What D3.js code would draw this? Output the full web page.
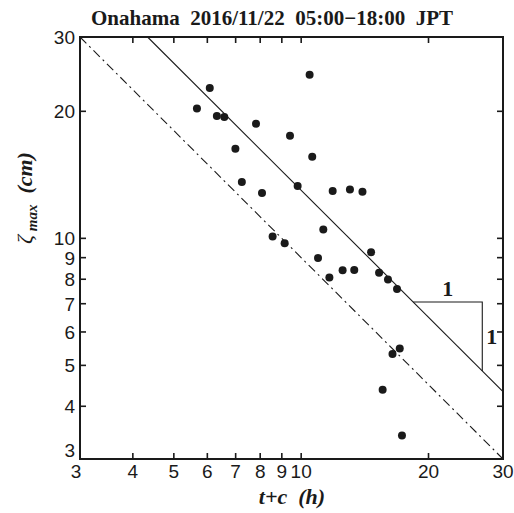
<!DOCTYPE html>
<meta charset="utf-8">
<script src="https://d3js.org/d3.v7.min.js"></script>
<style>
  body { margin: 0; background: #fff; }
  text { fill: #1a1a1a; }
</style>
<svg id="chart" width="514" height="513"></svg>
<script>

// data: t+c (h) and zeta max (cm)
var tc   = [5.67, 6.08, 6.32, 6.58, 6.99, 7.24, 7.82, 8.08, 8.56, 9.14,
            9.41, 9.81, 10.47, 10.62, 10.96, 11.28, 11.66, 11.87, 12.53, 13.04,
            13.35, 13.96, 14.63, 15.28, 15.58, 16.04, 16.44, 16.85, 17.10, 17.31];
var zeta = [20.3, 22.7, 19.5, 19.4, 16.3, 13.6, 18.7, 12.8, 10.1, 9.74,
            17.5, 13.3, 24.4, 15.6, 8.98, 10.5, 8.08, 12.95, 8.40, 13.05,
            8.41, 12.9, 9.27, 8.29, 4.38, 7.99, 5.32, 7.58, 5.48, 3.41];

// reference lines zeta = k / (t+c)
var upperK = 130;
var lowerK = 90;
// slope triangle corners (t+c)
var triX = [18.4, 26.8];

var xTicks = [3, 4, 5, 6, 7, 8, 9, 10, 20, 30];
var yTicks = [3, 4, 5, 6, 7, 8, 9, 10, 20, 30];
var minorTicks = [4, 5, 6, 7, 8, 9, 10, 20];

var svg = d3.select("#chart");
var x = d3.scaleLog().domain([3, 30]).range([80, 503]);
var y = d3.scaleLog().domain([3, 30]).range([459, 37]);

// title
svg.append("text")
  .attr("x", 272).attr("y", 25)
  .attr("text-anchor", "middle")
  .style("font-family", "'Liberation Serif', serif")
  .style("font-weight", "bold")
  .style("font-size", "21px")
  .style("white-space", "pre")
  .text("Onahama  2016/11/22  05:00\u221218:00  JPT");

// reference lines
var line = d3.line().x(function(d) { return x(d[0]); }).y(function(d) { return y(d[1]); });

svg.append("path")
  .attr("d", line([[upperK / 30, 30], [30, upperK / 30]]))
  .attr("fill", "none").attr("stroke", "#1a1a1a").attr("stroke-width", 1.1);

svg.append("path")
  .attr("d", line([[3, lowerK / 3], [30, lowerK / 30]]))
  .attr("fill", "none").attr("stroke", "#1a1a1a").attr("stroke-width", 1.1)
  .attr("stroke-dasharray", "9,4,2,4");

// slope triangle
var triY = [upperK / triX[0], upperK / triX[1]];
svg.append("path")
  .attr("d", line([[triX[0], triY[0]], [triX[1], triY[0]], [triX[1], triY[1]]]))
  .attr("fill", "none").attr("stroke", "#1a1a1a").attr("stroke-width", 1.1);

var oneStyle = function(sel) {
  sel.style("font-family", "'Liberation Serif', serif")
    .style("font-weight", "bold")
    .style("font-size", "22px");
};
svg.append("text")
  .attr("x", x(Math.sqrt(triX[0] * triX[1]))).attr("y", y(triY[0]) - 6)
  .attr("text-anchor", "middle").call(oneStyle).text("1");
svg.append("text")
  .attr("x", x(triX[1]) + 4).attr("y", y(Math.sqrt(triY[0] * triY[1])) + 8)
  .call(oneStyle).text("1");

// points
svg.selectAll("circle.pt")
  .data(tc)
  .enter()
  .append("circle")
    .attr("class", "pt")
    .attr("cx", function(d) { return x(d); })
    .attr("cy", function(d, i) { return y(zeta[i]); })
    .attr("r", 4)
    .attr("fill", "#1a1a1a");

// frame
svg.append("rect")
  .attr("x", x(3)).attr("y", y(30))
  .attr("width", x(30) - x(3)).attr("height", y(3) - y(30))
  .attr("fill", "none").attr("stroke", "#1a1a1a").attr("stroke-width", 2);

// inward ticks on all four sides
var tl = 6;
var ticks = svg.append("g").attr("stroke", "#1a1a1a").attr("stroke-width", 1.6);
minorTicks.forEach(function(v) {
  ticks.append("line").attr("x1", x(v)).attr("x2", x(v)).attr("y1", y(3)).attr("y2", y(3) - tl);
  ticks.append("line").attr("x1", x(v)).attr("x2", x(v)).attr("y1", y(30)).attr("y2", y(30) + tl);
  ticks.append("line").attr("y1", y(v)).attr("y2", y(v)).attr("x1", x(3)).attr("x2", x(3) + tl);
  ticks.append("line").attr("y1", y(v)).attr("y2", y(v)).attr("x1", x(30)).attr("x2", x(30) - tl);
});

// tick labels
var tickFont = function(sel) {
  sel.style("font-family", "'Liberation Sans', Arial, sans-serif")
    .style("font-size", "19px");
};
svg.append("g").selectAll("text")
  .data(xTicks)
  .enter()
  .append("text")
    .attr("x", function(d) { return d === 3 ? x(d) - 4 : x(d); })
    .attr("y", 478)
    .attr("text-anchor", "middle")
    .call(tickFont)
    .text(function(d) { return d; });

svg.append("g").selectAll("text")
  .data(yTicks)
  .enter()
  .append("text")
    .attr("x", 75)
    .attr("y", function(d) { return d === 3 ? y(d) - 2 : y(d) + 7; })
    .attr("text-anchor", "end")
    .call(tickFont)
    .text(function(d) { return d; });

// axis titles
svg.append("text")
  .attr("x", 292).attr("y", 504)
  .attr("text-anchor", "middle")
  .style("font-family", "'Liberation Serif', serif")
  .style("font-weight", "bold")
  .style("font-style", "italic")
  .style("font-size", "22px")
  .style("white-space", "pre")
  .text("t+c  (h)");

var yl = svg.append("text")
  .attr("transform", "translate(32,198) rotate(-90)")
  .attr("text-anchor", "middle")
  .style("font-family", "'Liberation Serif', serif")
  .style("font-weight", "bold")
  .style("font-style", "italic")
  .style("font-size", "22px")
  .style("white-space", "pre");
yl.append("tspan").style("font-weight", "normal").text("\u03b6");
yl.append("tspan").attr("dy", 5).style("font-size", "15px").text(" max");
yl.append("tspan").attr("dy", -5).text("  (cm)");

</script>
